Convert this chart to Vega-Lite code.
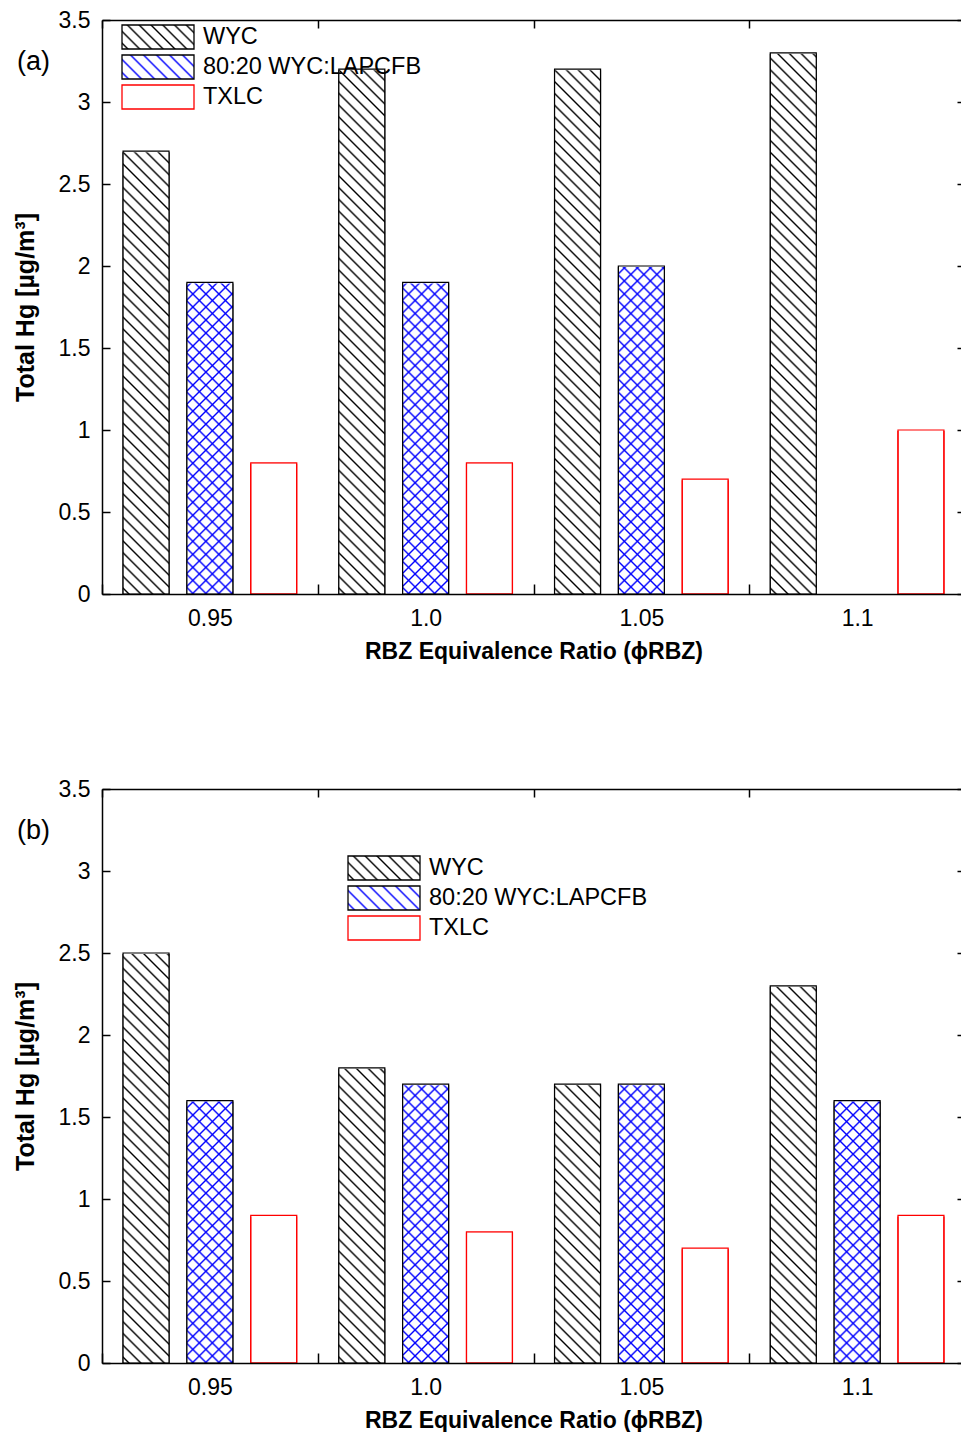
{
"$schema": "https://vega.github.io/schema/vega-lite/v6.json",
"padding": {"left": 13, "top": 9, "right": 0, "bottom": 0},
"config": {"font": "Liberation Sans", "view": {"stroke": null},
 "axis": {"domainColor": "#000", "tickColor": "#000", "labelColor": "#000", "titleColor": "#000", "domainWidth": 1.5, "tickWidth": 1.5, "grid": false, "zindex": 1},
 "title": {"color": "#000"}},
"params": [
{"name": "hatchW", "value": {"gradient": "linear", "x1": 0, "y1": 1, "x2": 0.0859, "y2": -0.0732, "stops": [
{"offset":0.0063,"color":"#fff"},{"offset":0.0095,"color":"#000"},{"offset":0.0127,"color":"#fff"},
{"offset":0.0253,"color":"#fff"},{"offset":0.0285,"color":"#000"},{"offset":0.0317,"color":"#fff"},
{"offset":0.0443,"color":"#fff"},{"offset":0.0475,"color":"#000"},{"offset":0.0507,"color":"#fff"},
{"offset":0.0633,"color":"#fff"},{"offset":0.0665,"color":"#000"},{"offset":0.0697,"color":"#fff"},
{"offset":0.0823,"color":"#fff"},{"offset":0.0855,"color":"#000"},{"offset":0.0887,"color":"#fff"},
{"offset":0.1013,"color":"#fff"},{"offset":0.1045,"color":"#000"},{"offset":0.1077,"color":"#fff"},
{"offset":0.1203,"color":"#fff"},{"offset":0.1235,"color":"#000"},{"offset":0.1267,"color":"#fff"},
{"offset":0.1393,"color":"#fff"},{"offset":0.1425,"color":"#000"},{"offset":0.1457,"color":"#fff"},
{"offset":0.1583,"color":"#fff"},{"offset":0.1615,"color":"#000"},{"offset":0.1647,"color":"#fff"},
{"offset":0.1773,"color":"#fff"},{"offset":0.1805,"color":"#000"},{"offset":0.1837,"color":"#fff"},
{"offset":0.1963,"color":"#fff"},{"offset":0.1995,"color":"#000"},{"offset":0.2027,"color":"#fff"},
{"offset":0.2153,"color":"#fff"},{"offset":0.2185,"color":"#000"},{"offset":0.2217,"color":"#fff"},
{"offset":0.2343,"color":"#fff"},{"offset":0.2375,"color":"#000"},{"offset":0.2407,"color":"#fff"},
{"offset":0.2533,"color":"#fff"},{"offset":0.2565,"color":"#000"},{"offset":0.2597,"color":"#fff"},
{"offset":0.2723,"color":"#fff"},{"offset":0.2755,"color":"#000"},{"offset":0.2787,"color":"#fff"},
{"offset":0.2913,"color":"#fff"},{"offset":0.2945,"color":"#000"},{"offset":0.2977,"color":"#fff"},
{"offset":0.3103,"color":"#fff"},{"offset":0.3135,"color":"#000"},{"offset":0.3167,"color":"#fff"},
{"offset":0.3293,"color":"#fff"},{"offset":0.3325,"color":"#000"},{"offset":0.3357,"color":"#fff"},
{"offset":0.3483,"color":"#fff"},{"offset":0.3515,"color":"#000"},{"offset":0.3547,"color":"#fff"},
{"offset":0.3673,"color":"#fff"},{"offset":0.3705,"color":"#000"},{"offset":0.3737,"color":"#fff"},
{"offset":0.3863,"color":"#fff"},{"offset":0.3895,"color":"#000"},{"offset":0.3927,"color":"#fff"},
{"offset":0.4053,"color":"#fff"},{"offset":0.4085,"color":"#000"},{"offset":0.4117,"color":"#fff"},
{"offset":0.4243,"color":"#fff"},{"offset":0.4275,"color":"#000"},{"offset":0.4307,"color":"#fff"},
{"offset":0.4433,"color":"#fff"},{"offset":0.4465,"color":"#000"},{"offset":0.4497,"color":"#fff"},
{"offset":0.4623,"color":"#fff"},{"offset":0.4655,"color":"#000"},{"offset":0.4687,"color":"#fff"},
{"offset":0.4813,"color":"#fff"},{"offset":0.4845,"color":"#000"},{"offset":0.4877,"color":"#fff"},
{"offset":0.5003,"color":"#fff"},{"offset":0.5035,"color":"#000"},{"offset":0.5067,"color":"#fff"},
{"offset":0.5193,"color":"#fff"},{"offset":0.5225,"color":"#000"},{"offset":0.5257,"color":"#fff"},
{"offset":0.5383,"color":"#fff"},{"offset":0.5415,"color":"#000"},{"offset":0.5447,"color":"#fff"},
{"offset":0.5573,"color":"#fff"},{"offset":0.5605,"color":"#000"},{"offset":0.5637,"color":"#fff"},
{"offset":0.5763,"color":"#fff"},{"offset":0.5795,"color":"#000"},{"offset":0.5827,"color":"#fff"},
{"offset":0.5953,"color":"#fff"},{"offset":0.5985,"color":"#000"},{"offset":0.6017,"color":"#fff"},
{"offset":0.6143,"color":"#fff"},{"offset":0.6175,"color":"#000"},{"offset":0.6207,"color":"#fff"},
{"offset":0.6333,"color":"#fff"},{"offset":0.6365,"color":"#000"},{"offset":0.6397,"color":"#fff"},
{"offset":0.6523,"color":"#fff"},{"offset":0.6555,"color":"#000"},{"offset":0.6587,"color":"#fff"},
{"offset":0.6713,"color":"#fff"},{"offset":0.6745,"color":"#000"},{"offset":0.6777,"color":"#fff"},
{"offset":0.6903,"color":"#fff"},{"offset":0.6935,"color":"#000"},{"offset":0.6967,"color":"#fff"},
{"offset":0.7093,"color":"#fff"},{"offset":0.7125,"color":"#000"},{"offset":0.7157,"color":"#fff"},
{"offset":0.7283,"color":"#fff"},{"offset":0.7315,"color":"#000"},{"offset":0.7347,"color":"#fff"},
{"offset":0.7473,"color":"#fff"},{"offset":0.7505,"color":"#000"},{"offset":0.7537,"color":"#fff"},
{"offset":0.7663,"color":"#fff"},{"offset":0.7695,"color":"#000"},{"offset":0.7727,"color":"#fff"},
{"offset":0.7853,"color":"#fff"},{"offset":0.7885,"color":"#000"},{"offset":0.7917,"color":"#fff"},
{"offset":0.8043,"color":"#fff"},{"offset":0.8075,"color":"#000"},{"offset":0.8107,"color":"#fff"},
{"offset":0.8233,"color":"#fff"},{"offset":0.8265,"color":"#000"},{"offset":0.8297,"color":"#fff"},
{"offset":0.8423,"color":"#fff"},{"offset":0.8455,"color":"#000"},{"offset":0.8487,"color":"#fff"},
{"offset":0.8613,"color":"#fff"},{"offset":0.8645,"color":"#000"},{"offset":0.8677,"color":"#fff"},
{"offset":0.8803,"color":"#fff"},{"offset":0.8835,"color":"#000"},{"offset":0.8867,"color":"#fff"},
{"offset":0.8993,"color":"#fff"},{"offset":0.9025,"color":"#000"},{"offset":0.9057,"color":"#fff"},
{"offset":0.9183,"color":"#fff"},{"offset":0.9215,"color":"#000"},{"offset":0.9247,"color":"#fff"},
{"offset":0.9373,"color":"#fff"},{"offset":0.9405,"color":"#000"},{"offset":0.9437,"color":"#fff"},
{"offset":0.9563,"color":"#fff"},{"offset":0.9595,"color":"#000"},{"offset":0.9627,"color":"#fff"},
{"offset":0.9753,"color":"#fff"},{"offset":0.9785,"color":"#000"},{"offset":0.9817,"color":"#fff"},
{"offset":0.9943,"color":"#fff"},{"offset":0.9975,"color":"#000"},{"offset":1,"color":"#fff"}]}},
{"name": "blueA", "value": {"gradient": "linear", "x1": 0, "y1": 0, "x2": 0.0859, "y2": 1.0732, "stops": [
{"offset":0.0073,"color":"#fff"},{"offset":0.0105,"color":"#00f"},{"offset":0.0137,"color":"#fff"},
{"offset":0.0283,"color":"#fff"},{"offset":0.0315,"color":"#00f"},{"offset":0.0347,"color":"#fff"},
{"offset":0.0493,"color":"#fff"},{"offset":0.0525,"color":"#00f"},{"offset":0.0557,"color":"#fff"},
{"offset":0.0703,"color":"#fff"},{"offset":0.0735,"color":"#00f"},{"offset":0.0767,"color":"#fff"},
{"offset":0.0913,"color":"#fff"},{"offset":0.0945,"color":"#00f"},{"offset":0.0977,"color":"#fff"},
{"offset":0.1123,"color":"#fff"},{"offset":0.1155,"color":"#00f"},{"offset":0.1187,"color":"#fff"},
{"offset":0.1333,"color":"#fff"},{"offset":0.1365,"color":"#00f"},{"offset":0.1397,"color":"#fff"},
{"offset":0.1543,"color":"#fff"},{"offset":0.1575,"color":"#00f"},{"offset":0.1607,"color":"#fff"},
{"offset":0.1753,"color":"#fff"},{"offset":0.1785,"color":"#00f"},{"offset":0.1817,"color":"#fff"},
{"offset":0.1963,"color":"#fff"},{"offset":0.1995,"color":"#00f"},{"offset":0.2027,"color":"#fff"},
{"offset":0.2173,"color":"#fff"},{"offset":0.2205,"color":"#00f"},{"offset":0.2237,"color":"#fff"},
{"offset":0.2383,"color":"#fff"},{"offset":0.2415,"color":"#00f"},{"offset":0.2447,"color":"#fff"},
{"offset":0.2593,"color":"#fff"},{"offset":0.2625,"color":"#00f"},{"offset":0.2657,"color":"#fff"},
{"offset":0.2803,"color":"#fff"},{"offset":0.2835,"color":"#00f"},{"offset":0.2867,"color":"#fff"},
{"offset":0.3013,"color":"#fff"},{"offset":0.3045,"color":"#00f"},{"offset":0.3077,"color":"#fff"},
{"offset":0.3223,"color":"#fff"},{"offset":0.3255,"color":"#00f"},{"offset":0.3287,"color":"#fff"},
{"offset":0.3433,"color":"#fff"},{"offset":0.3465,"color":"#00f"},{"offset":0.3497,"color":"#fff"},
{"offset":0.3643,"color":"#fff"},{"offset":0.3675,"color":"#00f"},{"offset":0.3707,"color":"#fff"},
{"offset":0.3853,"color":"#fff"},{"offset":0.3885,"color":"#00f"},{"offset":0.3917,"color":"#fff"},
{"offset":0.4063,"color":"#fff"},{"offset":0.4095,"color":"#00f"},{"offset":0.4127,"color":"#fff"},
{"offset":0.4273,"color":"#fff"},{"offset":0.4305,"color":"#00f"},{"offset":0.4337,"color":"#fff"},
{"offset":0.4483,"color":"#fff"},{"offset":0.4515,"color":"#00f"},{"offset":0.4547,"color":"#fff"},
{"offset":0.4693,"color":"#fff"},{"offset":0.4725,"color":"#00f"},{"offset":0.4757,"color":"#fff"},
{"offset":0.4903,"color":"#fff"},{"offset":0.4935,"color":"#00f"},{"offset":0.4967,"color":"#fff"},
{"offset":0.5113,"color":"#fff"},{"offset":0.5145,"color":"#00f"},{"offset":0.5177,"color":"#fff"},
{"offset":0.5323,"color":"#fff"},{"offset":0.5355,"color":"#00f"},{"offset":0.5387,"color":"#fff"},
{"offset":0.5533,"color":"#fff"},{"offset":0.5565,"color":"#00f"},{"offset":0.5597,"color":"#fff"},
{"offset":0.5743,"color":"#fff"},{"offset":0.5775,"color":"#00f"},{"offset":0.5807,"color":"#fff"},
{"offset":0.5953,"color":"#fff"},{"offset":0.5985,"color":"#00f"},{"offset":0.6017,"color":"#fff"},
{"offset":0.6163,"color":"#fff"},{"offset":0.6195,"color":"#00f"},{"offset":0.6227,"color":"#fff"},
{"offset":0.6373,"color":"#fff"},{"offset":0.6405,"color":"#00f"},{"offset":0.6437,"color":"#fff"},
{"offset":0.6583,"color":"#fff"},{"offset":0.6615,"color":"#00f"},{"offset":0.6647,"color":"#fff"},
{"offset":0.6793,"color":"#fff"},{"offset":0.6825,"color":"#00f"},{"offset":0.6857,"color":"#fff"},
{"offset":0.7003,"color":"#fff"},{"offset":0.7035,"color":"#00f"},{"offset":0.7067,"color":"#fff"},
{"offset":0.7213,"color":"#fff"},{"offset":0.7245,"color":"#00f"},{"offset":0.7277,"color":"#fff"},
{"offset":0.7423,"color":"#fff"},{"offset":0.7455,"color":"#00f"},{"offset":0.7487,"color":"#fff"},
{"offset":0.7633,"color":"#fff"},{"offset":0.7665,"color":"#00f"},{"offset":0.7697,"color":"#fff"},
{"offset":0.7843,"color":"#fff"},{"offset":0.7875,"color":"#00f"},{"offset":0.7907,"color":"#fff"},
{"offset":0.8053,"color":"#fff"},{"offset":0.8085,"color":"#00f"},{"offset":0.8117,"color":"#fff"},
{"offset":0.8263,"color":"#fff"},{"offset":0.8295,"color":"#00f"},{"offset":0.8327,"color":"#fff"},
{"offset":0.8473,"color":"#fff"},{"offset":0.8505,"color":"#00f"},{"offset":0.8537,"color":"#fff"},
{"offset":0.8683,"color":"#fff"},{"offset":0.8715,"color":"#00f"},{"offset":0.8747,"color":"#fff"},
{"offset":0.8893,"color":"#fff"},{"offset":0.8925,"color":"#00f"},{"offset":0.8957,"color":"#fff"},
{"offset":0.9103,"color":"#fff"},{"offset":0.9135,"color":"#00f"},{"offset":0.9167,"color":"#fff"},
{"offset":0.9313,"color":"#fff"},{"offset":0.9345,"color":"#00f"},{"offset":0.9377,"color":"#fff"},
{"offset":0.9523,"color":"#fff"},{"offset":0.9555,"color":"#00f"},{"offset":0.9587,"color":"#fff"},
{"offset":0.9733,"color":"#fff"},{"offset":0.9765,"color":"#00f"},{"offset":0.9797,"color":"#fff"},
{"offset":0.9943,"color":"#fff"},{"offset":0.9975,"color":"#00f"},{"offset":1,"color":"#fff"}]}},
{"name": "blueB", "value": {"gradient": "linear", "x1": 0, "y1": 1, "x2": 0.0859, "y2": -0.0732, "stops": [
{"offset":0.0073,"color":"rgba(0,0,255,0)"},{"offset":0.0105,"color":"#00f"},{"offset":0.0137,"color":"rgba(0,0,255,0)"},
{"offset":0.0283,"color":"rgba(0,0,255,0)"},{"offset":0.0315,"color":"#00f"},{"offset":0.0347,"color":"rgba(0,0,255,0)"},
{"offset":0.0493,"color":"rgba(0,0,255,0)"},{"offset":0.0525,"color":"#00f"},{"offset":0.0557,"color":"rgba(0,0,255,0)"},
{"offset":0.0703,"color":"rgba(0,0,255,0)"},{"offset":0.0735,"color":"#00f"},{"offset":0.0767,"color":"rgba(0,0,255,0)"},
{"offset":0.0913,"color":"rgba(0,0,255,0)"},{"offset":0.0945,"color":"#00f"},{"offset":0.0977,"color":"rgba(0,0,255,0)"},
{"offset":0.1123,"color":"rgba(0,0,255,0)"},{"offset":0.1155,"color":"#00f"},{"offset":0.1187,"color":"rgba(0,0,255,0)"},
{"offset":0.1333,"color":"rgba(0,0,255,0)"},{"offset":0.1365,"color":"#00f"},{"offset":0.1397,"color":"rgba(0,0,255,0)"},
{"offset":0.1543,"color":"rgba(0,0,255,0)"},{"offset":0.1575,"color":"#00f"},{"offset":0.1607,"color":"rgba(0,0,255,0)"},
{"offset":0.1753,"color":"rgba(0,0,255,0)"},{"offset":0.1785,"color":"#00f"},{"offset":0.1817,"color":"rgba(0,0,255,0)"},
{"offset":0.1963,"color":"rgba(0,0,255,0)"},{"offset":0.1995,"color":"#00f"},{"offset":0.2027,"color":"rgba(0,0,255,0)"},
{"offset":0.2173,"color":"rgba(0,0,255,0)"},{"offset":0.2205,"color":"#00f"},{"offset":0.2237,"color":"rgba(0,0,255,0)"},
{"offset":0.2383,"color":"rgba(0,0,255,0)"},{"offset":0.2415,"color":"#00f"},{"offset":0.2447,"color":"rgba(0,0,255,0)"},
{"offset":0.2593,"color":"rgba(0,0,255,0)"},{"offset":0.2625,"color":"#00f"},{"offset":0.2657,"color":"rgba(0,0,255,0)"},
{"offset":0.2803,"color":"rgba(0,0,255,0)"},{"offset":0.2835,"color":"#00f"},{"offset":0.2867,"color":"rgba(0,0,255,0)"},
{"offset":0.3013,"color":"rgba(0,0,255,0)"},{"offset":0.3045,"color":"#00f"},{"offset":0.3077,"color":"rgba(0,0,255,0)"},
{"offset":0.3223,"color":"rgba(0,0,255,0)"},{"offset":0.3255,"color":"#00f"},{"offset":0.3287,"color":"rgba(0,0,255,0)"},
{"offset":0.3433,"color":"rgba(0,0,255,0)"},{"offset":0.3465,"color":"#00f"},{"offset":0.3497,"color":"rgba(0,0,255,0)"},
{"offset":0.3643,"color":"rgba(0,0,255,0)"},{"offset":0.3675,"color":"#00f"},{"offset":0.3707,"color":"rgba(0,0,255,0)"},
{"offset":0.3853,"color":"rgba(0,0,255,0)"},{"offset":0.3885,"color":"#00f"},{"offset":0.3917,"color":"rgba(0,0,255,0)"},
{"offset":0.4063,"color":"rgba(0,0,255,0)"},{"offset":0.4095,"color":"#00f"},{"offset":0.4127,"color":"rgba(0,0,255,0)"},
{"offset":0.4273,"color":"rgba(0,0,255,0)"},{"offset":0.4305,"color":"#00f"},{"offset":0.4337,"color":"rgba(0,0,255,0)"},
{"offset":0.4483,"color":"rgba(0,0,255,0)"},{"offset":0.4515,"color":"#00f"},{"offset":0.4547,"color":"rgba(0,0,255,0)"},
{"offset":0.4693,"color":"rgba(0,0,255,0)"},{"offset":0.4725,"color":"#00f"},{"offset":0.4757,"color":"rgba(0,0,255,0)"},
{"offset":0.4903,"color":"rgba(0,0,255,0)"},{"offset":0.4935,"color":"#00f"},{"offset":0.4967,"color":"rgba(0,0,255,0)"},
{"offset":0.5113,"color":"rgba(0,0,255,0)"},{"offset":0.5145,"color":"#00f"},{"offset":0.5177,"color":"rgba(0,0,255,0)"},
{"offset":0.5323,"color":"rgba(0,0,255,0)"},{"offset":0.5355,"color":"#00f"},{"offset":0.5387,"color":"rgba(0,0,255,0)"},
{"offset":0.5533,"color":"rgba(0,0,255,0)"},{"offset":0.5565,"color":"#00f"},{"offset":0.5597,"color":"rgba(0,0,255,0)"},
{"offset":0.5743,"color":"rgba(0,0,255,0)"},{"offset":0.5775,"color":"#00f"},{"offset":0.5807,"color":"rgba(0,0,255,0)"},
{"offset":0.5953,"color":"rgba(0,0,255,0)"},{"offset":0.5985,"color":"#00f"},{"offset":0.6017,"color":"rgba(0,0,255,0)"},
{"offset":0.6163,"color":"rgba(0,0,255,0)"},{"offset":0.6195,"color":"#00f"},{"offset":0.6227,"color":"rgba(0,0,255,0)"},
{"offset":0.6373,"color":"rgba(0,0,255,0)"},{"offset":0.6405,"color":"#00f"},{"offset":0.6437,"color":"rgba(0,0,255,0)"},
{"offset":0.6583,"color":"rgba(0,0,255,0)"},{"offset":0.6615,"color":"#00f"},{"offset":0.6647,"color":"rgba(0,0,255,0)"},
{"offset":0.6793,"color":"rgba(0,0,255,0)"},{"offset":0.6825,"color":"#00f"},{"offset":0.6857,"color":"rgba(0,0,255,0)"},
{"offset":0.7003,"color":"rgba(0,0,255,0)"},{"offset":0.7035,"color":"#00f"},{"offset":0.7067,"color":"rgba(0,0,255,0)"},
{"offset":0.7213,"color":"rgba(0,0,255,0)"},{"offset":0.7245,"color":"#00f"},{"offset":0.7277,"color":"rgba(0,0,255,0)"},
{"offset":0.7423,"color":"rgba(0,0,255,0)"},{"offset":0.7455,"color":"#00f"},{"offset":0.7487,"color":"rgba(0,0,255,0)"},
{"offset":0.7633,"color":"rgba(0,0,255,0)"},{"offset":0.7665,"color":"#00f"},{"offset":0.7697,"color":"rgba(0,0,255,0)"},
{"offset":0.7843,"color":"rgba(0,0,255,0)"},{"offset":0.7875,"color":"#00f"},{"offset":0.7907,"color":"rgba(0,0,255,0)"},
{"offset":0.8053,"color":"rgba(0,0,255,0)"},{"offset":0.8085,"color":"#00f"},{"offset":0.8117,"color":"rgba(0,0,255,0)"},
{"offset":0.8263,"color":"rgba(0,0,255,0)"},{"offset":0.8295,"color":"#00f"},{"offset":0.8327,"color":"rgba(0,0,255,0)"},
{"offset":0.8473,"color":"rgba(0,0,255,0)"},{"offset":0.8505,"color":"#00f"},{"offset":0.8537,"color":"rgba(0,0,255,0)"},
{"offset":0.8683,"color":"rgba(0,0,255,0)"},{"offset":0.8715,"color":"#00f"},{"offset":0.8747,"color":"rgba(0,0,255,0)"},
{"offset":0.8893,"color":"rgba(0,0,255,0)"},{"offset":0.8925,"color":"#00f"},{"offset":0.8957,"color":"rgba(0,0,255,0)"},
{"offset":0.9103,"color":"rgba(0,0,255,0)"},{"offset":0.9135,"color":"#00f"},{"offset":0.9167,"color":"rgba(0,0,255,0)"},
{"offset":0.9313,"color":"rgba(0,0,255,0)"},{"offset":0.9345,"color":"#00f"},{"offset":0.9377,"color":"rgba(0,0,255,0)"},
{"offset":0.9523,"color":"rgba(0,0,255,0)"},{"offset":0.9555,"color":"#00f"},{"offset":0.9587,"color":"rgba(0,0,255,0)"},
{"offset":0.9733,"color":"rgba(0,0,255,0)"},{"offset":0.9765,"color":"#00f"},{"offset":0.9797,"color":"rgba(0,0,255,0)"},
{"offset":0.9943,"color":"rgba(0,0,255,0)"},{"offset":0.9975,"color":"#00f"},{"offset":1,"color":"rgba(0,0,255,0)"}]}},
{"name": "legW", "value": {"gradient": "linear", "x1": 0, "y1": 1, "x2": 1.2, "y2": 0.6, "stops": [
{"offset":0.0404,"color":"#fff"},{"offset":0.061,"color":"#000"},{"offset":0.0816,"color":"#fff"},
{"offset":0.1631,"color":"#fff"},{"offset":0.1837,"color":"#000"},{"offset":0.2043,"color":"#fff"},
{"offset":0.2858,"color":"#fff"},{"offset":0.3064,"color":"#000"},{"offset":0.327,"color":"#fff"},
{"offset":0.4085,"color":"#fff"},{"offset":0.4291,"color":"#000"},{"offset":0.4497,"color":"#fff"},
{"offset":0.5312,"color":"#fff"},{"offset":0.5518,"color":"#000"},{"offset":0.5724,"color":"#fff"},
{"offset":0.6539,"color":"#fff"},{"offset":0.6745,"color":"#000"},{"offset":0.6951,"color":"#fff"},
{"offset":0.7766,"color":"#fff"},{"offset":0.7972,"color":"#000"},{"offset":0.8178,"color":"#fff"},
{"offset":0.8993,"color":"#fff"},{"offset":0.9199,"color":"#000"},{"offset":0.9405,"color":"#fff"}]}},
{"name": "legB", "value": {"gradient": "linear", "x1": 0, "y1": 1, "x2": 1.2, "y2": 0.6, "stops": [
{"offset":0.0474,"color":"#fff"},{"offset":0.068,"color":"#00f"},{"offset":0.0886,"color":"#fff"},
{"offset":0.1829,"color":"#fff"},{"offset":0.2035,"color":"#00f"},{"offset":0.2241,"color":"#fff"},
{"offset":0.3184,"color":"#fff"},{"offset":0.339,"color":"#00f"},{"offset":0.3596,"color":"#fff"},
{"offset":0.4539,"color":"#fff"},{"offset":0.4745,"color":"#00f"},{"offset":0.4951,"color":"#fff"},
{"offset":0.5894,"color":"#fff"},{"offset":0.61,"color":"#00f"},{"offset":0.6306,"color":"#fff"},
{"offset":0.7249,"color":"#fff"},{"offset":0.7455,"color":"#00f"},{"offset":0.7661,"color":"#fff"},
{"offset":0.8604,"color":"#fff"},{"offset":0.881,"color":"#00f"},{"offset":0.9016,"color":"#fff"}]}}
],
"datasets": {
 "a": [
  {"phi":"0.95","series":"WYC","hg":2.7},{"phi":"0.95","series":"80:20 WYC:LAPCFB","hg":1.9},{"phi":"0.95","series":"TXLC","hg":0.8},
  {"phi":"1.0","series":"WYC","hg":3.2},{"phi":"1.0","series":"80:20 WYC:LAPCFB","hg":1.9},{"phi":"1.0","series":"TXLC","hg":0.8},
  {"phi":"1.05","series":"WYC","hg":3.2},{"phi":"1.05","series":"80:20 WYC:LAPCFB","hg":2.0},{"phi":"1.05","series":"TXLC","hg":0.7},
  {"phi":"1.1","series":"WYC","hg":3.3},{"phi":"1.1","series":"TXLC","hg":1.0}
 ],
 "b": [
  {"phi":"0.95","series":"WYC","hg":2.5},{"phi":"0.95","series":"80:20 WYC:LAPCFB","hg":1.6},{"phi":"0.95","series":"TXLC","hg":0.9},
  {"phi":"1.0","series":"WYC","hg":1.8},{"phi":"1.0","series":"80:20 WYC:LAPCFB","hg":1.7},{"phi":"1.0","series":"TXLC","hg":0.8},
  {"phi":"1.05","series":"WYC","hg":1.7},{"phi":"1.05","series":"80:20 WYC:LAPCFB","hg":1.7},{"phi":"1.05","series":"TXLC","hg":0.7},
  {"phi":"1.1","series":"WYC","hg":2.3},{"phi":"1.1","series":"80:20 WYC:LAPCFB","hg":1.6},{"phi":"1.1","series":"TXLC","hg":0.9}
 ]
},
"spacing": 115,
"resolve": {"scale": {"fill": "independent", "stroke": "independent"}},
"vconcat": [
{
 "width": 863, "height": 574,
 "title": {"text": "(a)", "anchor": "start", "frame": "group", "orient": "top", "offset": 0, "dx": -85, "dy": 80, "baseline": "middle", "fontSize": 27, "fontWeight": "normal"},
 "data": {"name": "a"},
 "resolve": {"axis": {"x": "independent", "y": "independent"}},
 "encoding": {
  "x": {"field": "phi", "type": "nominal", "sort": ["0.95","1.0","1.05","1.1"], "scale": {"paddingInner": 0, "paddingOuter": 0}, "axis": null},
  "xOffset": {"field": "series", "type": "nominal", "scale": {"domain": ["WYC","80:20 WYC:LAPCFB","TXLC"], "paddingInner": 0.28, "paddingOuter": 0.33}}
 },
 "layer": [
  {"mark": {"type": "bar", "strokeWidth": 1.2},
   "encoding": {
    "x": {"field": "phi", "type": "nominal", "sort": ["0.95","1.0","1.05","1.1"], "scale": {"paddingInner": 0, "paddingOuter": 0},
      "axis": {"orient": "bottom", "zindex": 1, "title": "RBZ Equivalence Ratio (ϕRBZ)", "tickBand": "extent", "tickSize": -10, "labelAngle": 0, "labelFontSize": 23, "labelPadding": 23, "titleFontSize": 23, "titleFontWeight": "bold", "titlePadding": 10}},
    "y": {"field": "hg", "type": "quantitative", "scale": {"domain": [0, 3.5], "nice": false},
      "axis": {"orient": "left", "zindex": 1, "values": [0,0.5,1,1.5,2,2.5,3,3.5], "format": "~g", "tickSize": -8, "labelPadding": 20, "labelFontSize": 23, "title": "Total Hg [µg/m³]", "titleFontSize": 25, "titleFontWeight": "bold", "titlePadding": 20}},
    "fill": {"field": "series", "type": "nominal", "scale": {"domain": ["WYC","80:20 WYC:LAPCFB","TXLC"], "range": [{"expr": "legW"}, {"expr": "legB"}, "#fff"]},
      "legend": {"orient": "none", "legendX": 43, "legendY": 4, "title": null, "symbolType": "M-3,-1H3V1H-3Z", "symbolSize": 576, "symbolStrokeWidth": 1.3, "symbolFillColor": "#fff", "labelFontSize": 23.5, "labelOffset": 32, "labelLimit": 400, "labelColor": "#000", "rowPadding": 0, "padding": 0}},
    "stroke": {"field": "series", "type": "nominal", "scale": {"domain": ["WYC","80:20 WYC:LAPCFB","TXLC"], "range": ["#000","#000","#f00"]},
      "legend": {"orient": "none", "legendX": 43, "legendY": 4, "title": null, "symbolType": "M-3,-1H3V1H-3Z", "symbolSize": 576, "symbolStrokeWidth": 1.3, "symbolFillColor": "#fff", "labelFontSize": 23.5, "labelOffset": 32, "labelLimit": 400, "labelColor": "#000", "rowPadding": 0, "padding": 0}}
   }},
  {"transform": [{"filter": "datum.series === 'WYC'"}],
   "mark": {"type": "bar", "fill": {"expr": "hatchW"}, "strokeWidth": 0},
   "encoding": {"y": {"datum": 0, "type": "quantitative", "axis": null}, "y2": {"datum": 3.5}}},
  {"transform": [{"filter": "datum.series === '80:20 WYC:LAPCFB'"}],
   "mark": {"type": "bar", "fill": {"expr": "blueA"}, "strokeWidth": 0},
   "encoding": {"y": {"datum": 0, "type": "quantitative", "axis": null}, "y2": {"datum": 3.5}}},
  {"transform": [{"filter": "datum.series === '80:20 WYC:LAPCFB'"}],
   "mark": {"type": "bar", "fill": {"expr": "blueB"}, "strokeWidth": 0},
   "encoding": {"y": {"datum": 0, "type": "quantitative", "axis": null}, "y2": {"datum": 3.5}}},
  {"mark": {"type": "bar", "fill": "#fff", "stroke": "#fff", "strokeWidth": 2},
   "encoding": {"y": {"field": "hg", "type": "quantitative", "axis": null}, "y2": {"datum": 3.5}}},
  {"mark": {"type": "bar", "fill": "transparent", "strokeWidth": 1.2},
   "encoding": {
    "x": {"field": "phi", "type": "nominal", "sort": ["0.95","1.0","1.05","1.1"], "scale": {"paddingInner": 0, "paddingOuter": 0},
      "axis": {"orient": "top", "zindex": 1, "labels": false, "title": null, "tickBand": "extent", "tickSize": -8}},
    "y": {"field": "hg", "type": "quantitative", "axis": {"orient": "right", "zindex": 1, "labels": false, "title": null, "values": [0,0.5,1,1.5,2,2.5,3,3.5], "tickSize": -8}},
    "stroke": {"field": "series", "type": "nominal", "scale": {"domain": ["WYC","80:20 WYC:LAPCFB","TXLC"], "range": ["#000","#000","#f00"]}, "legend": null}
   }}
 ]
},
{
 "width": 863, "height": 574,
 "title": {"text": "(b)", "anchor": "start", "frame": "group", "orient": "top", "offset": 0, "dx": -85, "dy": 80, "baseline": "middle", "fontSize": 27, "fontWeight": "normal"},
 "data": {"name": "b"},
 "resolve": {"axis": {"x": "independent", "y": "independent"}},
 "encoding": {
  "x": {"field": "phi", "type": "nominal", "sort": ["0.95","1.0","1.05","1.1"], "scale": {"paddingInner": 0, "paddingOuter": 0}, "axis": null},
  "xOffset": {"field": "series", "type": "nominal", "scale": {"domain": ["WYC","80:20 WYC:LAPCFB","TXLC"], "paddingInner": 0.28, "paddingOuter": 0.33}}
 },
 "layer": [
  {"mark": {"type": "bar", "strokeWidth": 1.2},
   "encoding": {
    "x": {"field": "phi", "type": "nominal", "sort": ["0.95","1.0","1.05","1.1"], "scale": {"paddingInner": 0, "paddingOuter": 0},
      "axis": {"orient": "bottom", "zindex": 1, "title": "RBZ Equivalence Ratio (ϕRBZ)", "tickBand": "extent", "tickSize": -10, "labelAngle": 0, "labelFontSize": 23, "labelPadding": 23, "titleFontSize": 23, "titleFontWeight": "bold", "titlePadding": 10}},
    "y": {"field": "hg", "type": "quantitative", "scale": {"domain": [0, 3.5], "nice": false},
      "axis": {"orient": "left", "zindex": 1, "values": [0,0.5,1,1.5,2,2.5,3,3.5], "format": "~g", "tickSize": -8, "labelPadding": 20, "labelFontSize": 23, "title": "Total Hg [µg/m³]", "titleFontSize": 25, "titleFontWeight": "bold", "titlePadding": 20}},
    "fill": {"field": "series", "type": "nominal", "scale": {"domain": ["WYC","80:20 WYC:LAPCFB","TXLC"], "range": [{"expr": "legW"}, {"expr": "legB"}, "#fff"]},
      "legend": {"orient": "none", "legendX": 269, "legendY": 66, "title": null, "symbolType": "M-3,-1H3V1H-3Z", "symbolSize": 576, "symbolStrokeWidth": 1.3, "symbolFillColor": "#fff", "labelFontSize": 23.5, "labelOffset": 32, "labelLimit": 400, "labelColor": "#000", "rowPadding": 0, "padding": 0}},
    "stroke": {"field": "series", "type": "nominal", "scale": {"domain": ["WYC","80:20 WYC:LAPCFB","TXLC"], "range": ["#000","#000","#f00"]},
      "legend": {"orient": "none", "legendX": 269, "legendY": 66, "title": null, "symbolType": "M-3,-1H3V1H-3Z", "symbolSize": 576, "symbolStrokeWidth": 1.3, "symbolFillColor": "#fff", "labelFontSize": 23.5, "labelOffset": 32, "labelLimit": 400, "labelColor": "#000", "rowPadding": 0, "padding": 0}}
   }},
  {"transform": [{"filter": "datum.series === 'WYC'"}],
   "mark": {"type": "bar", "fill": {"expr": "hatchW"}, "strokeWidth": 0},
   "encoding": {"y": {"datum": 0, "type": "quantitative", "axis": null}, "y2": {"datum": 3.5}}},
  {"transform": [{"filter": "datum.series === '80:20 WYC:LAPCFB'"}],
   "mark": {"type": "bar", "fill": {"expr": "blueA"}, "strokeWidth": 0},
   "encoding": {"y": {"datum": 0, "type": "quantitative", "axis": null}, "y2": {"datum": 3.5}}},
  {"transform": [{"filter": "datum.series === '80:20 WYC:LAPCFB'"}],
   "mark": {"type": "bar", "fill": {"expr": "blueB"}, "strokeWidth": 0},
   "encoding": {"y": {"datum": 0, "type": "quantitative", "axis": null}, "y2": {"datum": 3.5}}},
  {"mark": {"type": "bar", "fill": "#fff", "stroke": "#fff", "strokeWidth": 2},
   "encoding": {"y": {"field": "hg", "type": "quantitative", "axis": null}, "y2": {"datum": 3.5}}},
  {"mark": {"type": "bar", "fill": "transparent", "strokeWidth": 1.2},
   "encoding": {
    "x": {"field": "phi", "type": "nominal", "sort": ["0.95","1.0","1.05","1.1"], "scale": {"paddingInner": 0, "paddingOuter": 0},
      "axis": {"orient": "top", "zindex": 1, "labels": false, "title": null, "tickBand": "extent", "tickSize": -8}},
    "y": {"field": "hg", "type": "quantitative", "axis": {"orient": "right", "zindex": 1, "labels": false, "title": null, "values": [0,0.5,1,1.5,2,2.5,3,3.5], "tickSize": -8}},
    "stroke": {"field": "series", "type": "nominal", "scale": {"domain": ["WYC","80:20 WYC:LAPCFB","TXLC"], "range": ["#000","#000","#f00"]}, "legend": null}
   }}
 ]
}
]
}
